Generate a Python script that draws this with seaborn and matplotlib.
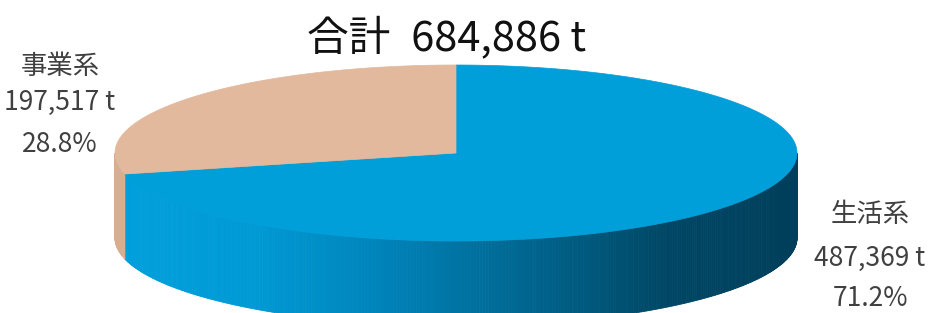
import numpy as np
import matplotlib
matplotlib.use("Agg")
import matplotlib.pyplot as plt
from matplotlib.patches import Polygon
import seaborn as sns


# ── Data ──────────────────────────────────────────────────────────────────────
categories = ["生活系", "事業系"]
tonnes = [487369, 197517]
top_colors = ["#009fda", "#e2b99c"]
side_colors = [["#00a0dc", "#009ad5", "#0082b8", "#006690", "#004866", "#003e5a"],
               ["#d9ae90", "#d9ae90"]]

# ── Style ─────────────────────────────────────────────────────────────────────
sns.set_theme(style="white")
plt.rcParams["font.family"] = ["Noto Sans CJK JP", "DejaVu Sans"]

# layout of the tilted pie (pixel space)
CX, CY = 456, 153
RX, RY = 341, 88
DEPTH = 85


def arc(a0, a1, n=200):
    t = np.radians(np.linspace(a0, a1, n))
    return CX + RX * np.cos(t), CY - RY * np.sin(t)


fig = plt.figure(figsize=(9.3, 3.13), dpi=100)
ax = fig.add_axes([0, 0, 1, 1])
ax.set_xlim(0, 930)
ax.set_ylim(313, 0)
ax.axis("off")

total = sum(tonnes)
fracs = [v / total for v in tonnes]

# wedges go clockwise from 12 o'clock, like the spreadsheet default
spans = []
start = 90.0
for f in fracs:
    end = start - 360 * f
    spans.append((end, start))
    start = end


def norm_span(a0, a1):
    # express the span inside [0, 360), split if it wraps
    a0m = a0 % 360
    a1m = a0m + (a1 - a0)
    if a1m <= 360:
        return [(a0m, a1m)]
    return [(a0m, 360.0), (0.0, a1m - 360)]


# ── Side walls (front half only) ──────────────────────────────────────────────
for i, (a0, a1) in enumerate(spans):
    pal = sns.blend_palette(side_colors[i], n_colors=256)
    for b0, b1 in norm_span(a0, a1):
        lo, hi = max(b0, 180.0), min(b1, 360.0)
        if hi <= lo:
            continue
        n = max(int((hi - lo) * 2), 2)
        edges = np.linspace(lo, hi, n + 1)
        for e0, e1 in zip(edges[:-1], edges[1:]):
            xs, ys = arc(e0, e1, 4)
            t = np.clip((xs.mean() - (CX - RX)) / (2 * RX), 0, 1)
            c = pal[int(t * 255)]
            poly = np.column_stack([np.r_[xs, xs[::-1]], np.r_[ys, ys[::-1] + DEPTH]])
            ax.add_patch(Polygon(poly, closed=True, facecolor=c, edgecolor=c, lw=0.6))

# ── Top faces ─────────────────────────────────────────────────────────────────
for i, (a0, a1) in enumerate(spans):
    xs, ys = arc(a0, a1, 400)
    poly = np.column_stack([np.r_[CX, xs], np.r_[CY, ys]])
    ax.add_patch(Polygon(poly, closed=True, facecolor=top_colors[i],
                         edgecolor=top_colors[i], lw=0.5))

# ── Text ──────────────────────────────────────────────────────────────────────
ax.text(447, 38, f"合計\u2002{total:,} t", ha="center", va="center",
        fontsize=30, color="#111111")

label_pos = [(870, [215, 258, 299]), (60, [66, 102, 145])]
for i, name in enumerate(categories):
    x, ys = label_pos[i]
    lines = [name, f"{tonnes[i]:,} t", f"{fracs[i] * 100:.1f}%"]
    for y, s in zip(ys, lines):
        ax.text(x, y, s, ha="center", va="center", fontsize=19, color="#404040")

fig.savefig("out.png", dpi=100)
